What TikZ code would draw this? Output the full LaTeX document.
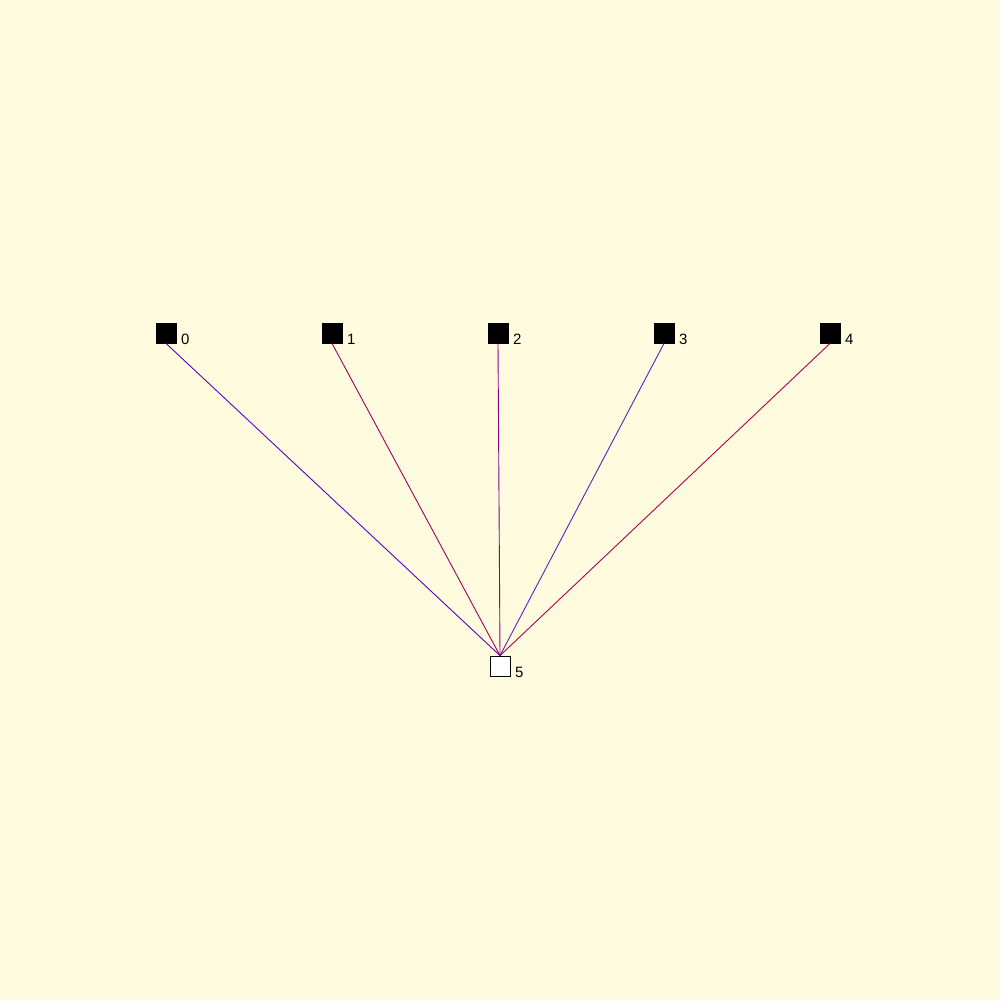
\documentclass[tikz,border=0pt]{standalone}
\usepackage{fontspec}
\setmainfont{Liberation Sans}
\definecolor{bg}{RGB}{255,251,222}
\definecolor{ca}{RGB}{96,0,192}
\definecolor{cb}{RGB}{160,0,96}
\definecolor{cc}{RGB}{140,0,140}
\definecolor{cd}{RGB}{100,30,190}
\definecolor{ce}{RGB}{176,0,80}
\begin{document}
\begin{tikzpicture}[x=1pt,y=-1pt,
  blk/.style={draw=black,fill=black,minimum size=20pt,inner sep=0pt,line width=0.8pt},
  wht/.style={draw=black,fill=white,minimum size=20pt,inner sep=0pt,line width=0.8pt},
  lbl/.style={anchor=west,inner sep=0pt,font=\fontsize{15}{15}\selectfont},
  edge/.style={line width=0.9pt}]
\fill[bg] (0,0) rectangle (1000,1000);
\useasboundingbox (0,0) rectangle (1000,1000);
\node[wht] (n5) at (500,666) {};
\node[blk] (n0) at (166,333) {};
\node[blk] (n1) at (332,333) {};
\node[blk] (n2) at (498,333) {};
\node[blk] (n3) at (664,333) {};
\node[blk] (n4) at (830,333) {};
\draw[edge,ca] (n0.south) -- (n5.north);
\draw[edge,cb] (n1.south) -- (n5.north);
\draw[edge,cc] (n2.south) -- (n5.north);
\draw[edge,cd] (n3.south) -- (n5.north);
\draw[edge,ce] (n4.south) -- (n5.north);
\node[lbl] (l0) at (181,339) {0};
\node[lbl] (l1) at (347,339) {1};
\node[lbl] (l2) at (513,339) {2};
\node[lbl] (l3) at (679,339) {3};
\node[lbl] (l4) at (845,339) {4};
\node[lbl] (l5) at (515,672) {5};
\end{tikzpicture}
\end{document}
